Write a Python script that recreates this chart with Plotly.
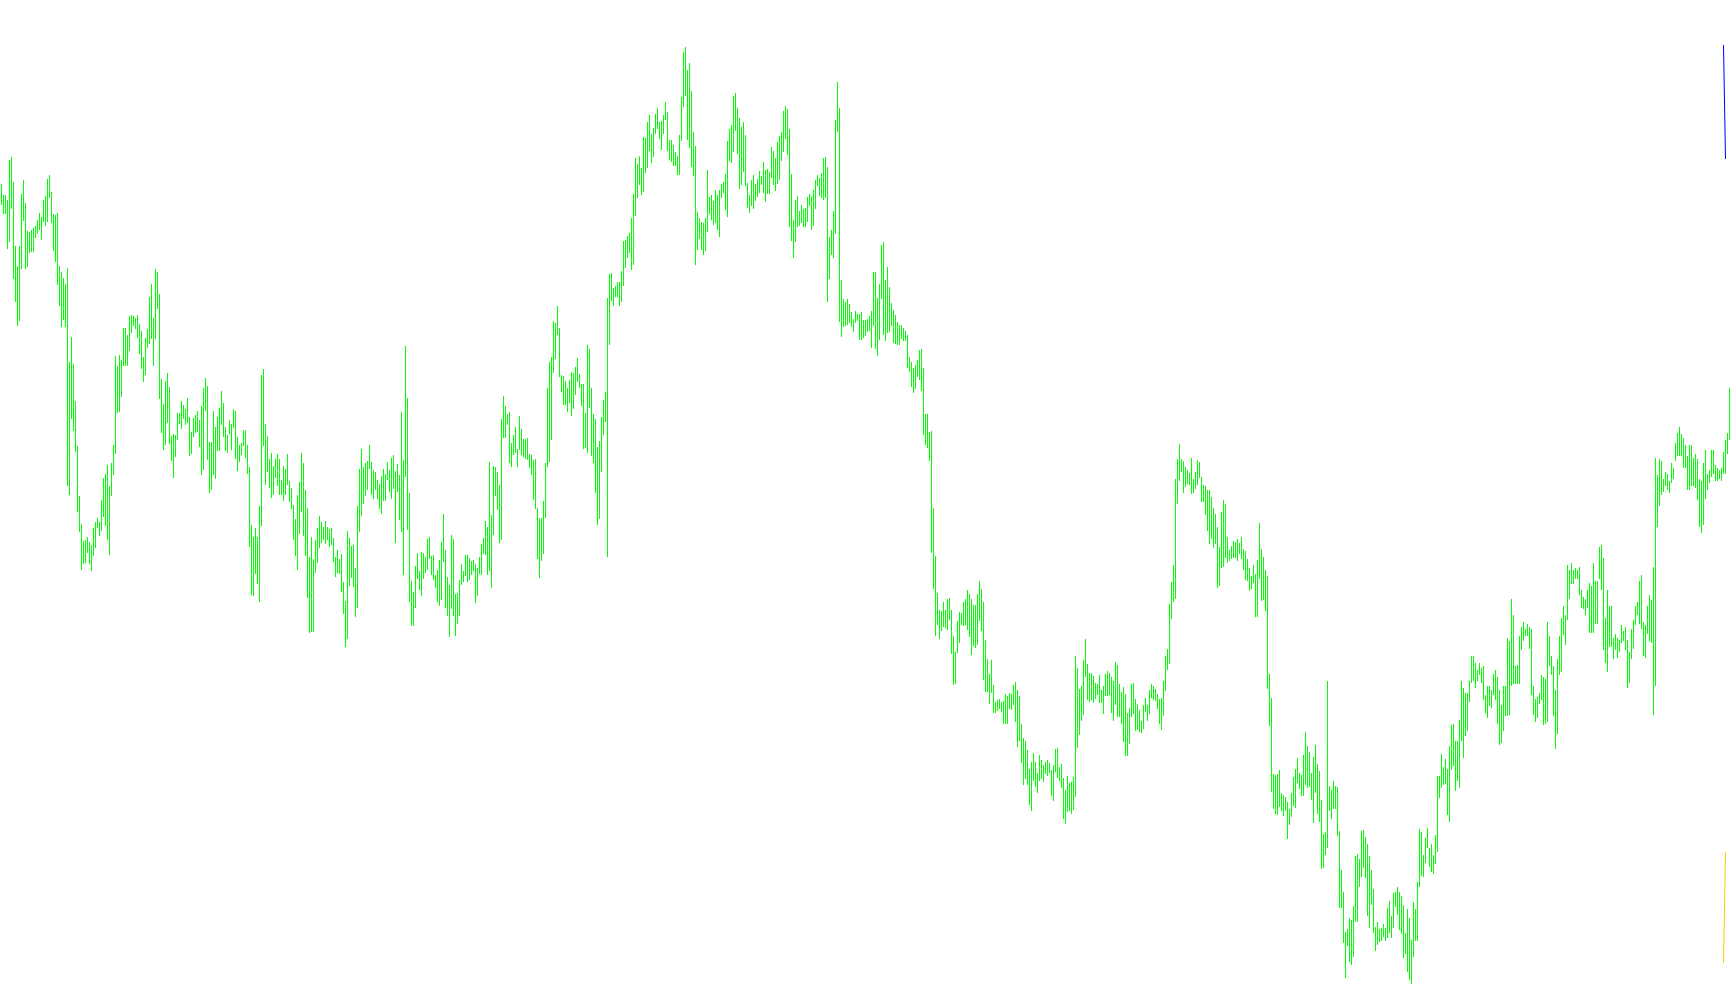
import plotly.graph_objects as go

# ---- price bars (high / low), left to right ----
high_1 = [816,805,805,800,840,843,818,754,734,754,
          806,820,797,769,768,770,772,774,780,787,
          783,800,804,821,825,808,786,785,787,734,
          728,722,716,732,638,663,636,599,554,504,
          476,459,460,463,458,455,472,478,482,478,
          500,522,526,535,514,537,555,644,634,645,
          640,672,672,665,684,685,684,682,685,676,
          669,643,662,671,703,716,682,731,728,706,
          621,596,619,627,613,564,566,565,587,587,
          599,595,591,602,583,568,582,585,589,580,
          594,612,622,614,558,558,589,573,583,592,
          609,597,573,565,580,576,591,589,563,555,
          557,570,570,555,533,475,463,472,463,494,
          625,631,576,564,541,547,534,541,546,541,
          520,534,531,546,519]
low_1 = [795,786,786,751,758,791,721,698,674,679,
         731,779,731,733,747,748,748,762,766,770,
         760,778,774,778,802,777,749,738,715,694,
         673,680,673,514,505,581,569,548,488,468,
         430,436,437,447,436,429,444,452,472,464,
         469,483,474,460,445,504,525,546,587,588,
         603,634,634,634,649,667,674,671,662,646,
         631,618,625,652,656,661,634,661,691,601,
         567,550,555,577,556,539,522,543,560,576,
         571,581,575,577,544,546,563,567,568,553,
         525,530,589,540,507,510,525,521,549,549,
         575,563,549,547,566,550,572,541,529,538,
         545,554,542,526,453,405,404,426,416,398,
         474,554,515,528,512,502,505,522,514,505,
         505,499,505,515,498]

high_2 = [512,495,481,505,518,547,537,510,492,443,
          463,441,460,472,484,478,473,479,473,471,
          472,462,443,450,441,446,418,399,469,462,
          454,455,432,494,531,551,533,537,539,555,
          538,530,528,520,516,524,531,526,538,530,
          542,545,529,536,525,588,540,654,602,507,
          419,408,434,447,429,448,447,443,461,463,
          444,445,425,430,440,458,486,450,423,415,
          465,461,406,407,420,436,429,445,445,442,
          439,440,436,432,443,456,462,479,473,538,
          485,534,533,528,515,581,604,594,586,588,
          557,565,573,551,584,571,561,561,562,546,
          545,540,541,492,482,482,499,537,612,638,
          643,679,677,694,672,625,624,619,612,620,
          628,627,633,642,626]
low_2 = [491,460,444,430,466,488,464,444,402,367,
         368,368,427,437,452,457,460,456,460,453,
         455,438,423,427,426,408,386,353,361,414,
         422,413,383,392,468,484,496,504,510,531,
         505,501,510,501,491,486,499,499,520,508,
         501,511,457,508,480,468,425,523,470,398,
         374,374,392,421,410,404,421,427,430,441,
         425,420,412,398,394,400,438,392,384,363,
         391,384,364,376,384,415,418,424,418,420,
         425,429,397,404,426,425,446,445,425,429,
         412,465,504,490,457,460,562,562,575,537,
         533,545,547,533,550,545,543,541,540,532,
         525,500,491,441,422,439,446,482,533,538,
         560,627,641,665,623,608,595,595,588,597,
         584,591,605,618,612]

high_3 = [616,616,587,655,651,612,586,581,553,559,
          583,600,608,702,726,727,712,714,718,718,
          729,759,760,764,767,782,806,842,836,844,
          832,863,862,878,885,866,872,886,892,878,
          879,885,898,888,860,860,855,848,844,865,
          903,948,953,930,937,909,868,854,788,782,
          778,777,782,830,803,805,799,810,805,810,
          816,818,826,859,871,875,904,907,892,882,
          873,878,865,817,805,820,825,816,821,829,
          824,838,830,831,828,853,849,842,858,864,
          868,889,894,891,871,826,780,800,804,789,
          795,791,792,803,806,804,810,820,825,822,
          827,842,843,833,763,770,789,880,918,892,
          720,701,698,701,696,688,681,689,686,686,
          688,680,680,681,684]
low_3 = [594,551,552,547,592,544,537,507,475,481,
         528,565,578,443,655,699,694,703,703,694,
         698,714,732,742,747,730,735,784,802,815,
         805,808,827,832,849,837,843,866,871,861,
         850,866,880,849,840,838,834,834,825,825,
         859,893,904,860,852,833,824,735,750,761,
         750,745,749,768,786,780,775,777,770,763,
         802,807,790,783,839,837,848,869,846,811,
         815,828,814,792,787,794,791,799,803,807,
         815,807,798,806,806,822,815,809,816,820,
         839,848,861,845,773,759,742,758,773,774,
         777,773,773,778,794,770,774,791,814,804,
         802,800,802,698,721,745,742,766,868,678,
         663,673,674,675,677,673,668,677,679,660,
         660,662,664,668,669]

high_4 = [689,728,728,702,716,755,758,720,733,713,
          697,690,685,678,675,675,672,669,665,643,
          638,632,635,640,650,651,632,586,586,568,
          569,492,444,407,390,389,398,390,401,402,
          390,364,348,379,388,387,398,401,410,406,
          401,395,395,406,419,411,398,360,341,326,
          340,315,298,300,301,298,299,306,304,307,
          306,315,318,310,304,276,262,259,250,231,
          238,247,238,227,245,240,235,238,240,237,
          230,235,251,252,233,236,222,210,224,217,
          218,223,344,332,311,314,340,361,336,327,
          327,324,317,316,325,310,314,326,329,327,
          323,319,338,335,316,308,313,306,287,292,
          316,317,301,296,290,279,295,302,295,310,
          316,314,311,306,301]
low_4 = [652,674,651,644,660,701,665,659,667,668,
         674,657,656,655,655,661,659,659,632,628,
         613,607,611,623,620,609,565,555,552,539,
         447,411,364,375,361,369,373,372,370,380,
         346,315,316,347,357,375,374,375,370,363,
         345,354,352,355,379,369,320,308,308,296,
         307,287,287,289,291,288,276,276,276,291,
         290,295,278,253,259,237,215,221,215,195,
         189,219,213,207,219,221,218,226,224,227,
         204,199,228,222,219,212,181,176,188,189,
         186,190,203,252,265,279,285,323,300,298,
         300,297,301,305,297,297,286,304,304,305,
         287,279,295,283,283,276,258,244,244,256,
         283,286,269,270,268,267,271,288,279,286,
         302,300,299,291,276]

high_5 = [302,319,344,351,396,418,435,521,541,556,
          541,539,533,530,527,542,521,528,540,538,
          523,515,514,510,510,503,492,486,473,453,
          488,500,496,463,450,454,459,458,461,457,
          463,451,449,441,432,424,435,426,440,477,
          451,443,430,424,326,302,226,225,226,230,
          207,205,203,198,191,207,223,231,242,227,
          225,245,268,254,248,227,243,255,236,229,
          200,166,168,319,214,210,219,214,213,169,
          130,108,68,71,82,80,94,144,146,141,
          169,170,163,156,144,130,111,73,78,71,
          72,76,72,92,99,84,107,108,113,108,
          104,95,67,91,82,60,98,91,118,171,
          168,145,162,172,152,156,145,165,224,224,
          246,233,241,231,254]
low_5 = [270,284,309,330,336,381,398,401,496,519,
         528,507,513,516,515,506,507,511,515,522,
         498,498,485,469,456,461,452,456,412,414,
         432,433,442,437,439,441,442,442,439,446,
         441,430,420,419,409,411,417,383,383,421,
         399,400,389,311,274,208,191,186,185,193,
         189,184,189,161,175,183,194,192,217,211,
         204,204,215,212,213,200,177,207,186,178,
         131,132,145,152,189,181,191,191,164,92,
         92,57,22,54,38,35,43,78,78,113,
         123,132,122,84,72,95,67,49,55,58,
         59,63,59,62,67,62,72,93,85,70,
         66,42,46,28,20,16,43,59,59,113,
         124,123,137,152,133,128,126,136,148,202,
         212,215,216,185,178]

high_6 = [275,276,259,259,280,319,312,307,307,319,
          344,344,337,330,337,332,334,305,314,314,
          310,326,330,323,310,295,314,314,362,359,
          401,385,334,335,364,373,378,371,376,373,
          371,314,301,303,307,325,323,321,378,364,
          344,334,310,341,364,382,394,385,435,430,
          437,430,432,430,433,410,403,401,410,417,
          414,437,419,419,453,455,442,382,410,394,
          394,362,366,362,360,375,369,373,360,348,
          371,380,394,398,419,425,378,375,394,405,
          400,433,542,525,541,539,521,528,526,519,
          537,532,557,567,573,566,562,555,544,555,
          555,542,546,541,521,519,537,550,526,530,
          550,550,535,532,530,532,548,560,567,612]
low_6 = [230,234,209,219,212,259,242,264,269,298,
         317,319,312,319,325,317,300,287,282,294,
         292,305,300,276,255,257,269,284,284,285,
         314,316,316,316,316,350,359,364,364,351,
         305,285,278,282,296,300,275,276,278,334,
         325,284,251,266,325,328,365,355,380,401,
         416,416,421,421,405,392,391,385,392,367,
         367,367,376,376,421,410,350,337,328,353,
         353,341,350,342,348,357,359,350,312,317,
         341,351,375,385,376,371,344,342,366,359,
         357,285,314,473,494,505,508,514,510,507,
         517,521,539,544,544,544,532,532,510,510,
         514,514,512,500,473,467,475,501,510,517,
         523,526,519,519,521,519,526,526,546,560]

# ---- two indicator lines at the right edge ----
upper_x = [861, 862]
upper_y = [955, 841]
lower_x = [861, 862]
lower_y = [37, 148]

highs = high_1 + high_2 + high_3 + high_4 + high_5 + high_6
lows = low_1 + low_2 + low_3 + low_4 + low_5 + low_6
n_bars = len(highs)

seg_x, seg_y = [], []
for i, (h, l) in enumerate(zip(highs, lows)):
    seg_x += [i, i, None]
    seg_y += [l, h, None]

fig = go.Figure()
fig.add_trace(go.Scatter(x=seg_x, y=seg_y, mode="lines",
                         line=dict(color="#00FF00", width=1),
                         hoverinfo="skip", showlegend=False))
fig.add_trace(go.Scatter(x=upper_x, y=upper_y, mode="lines",
                         line=dict(color="#0000FF", width=1),
                         hoverinfo="skip", showlegend=False))
fig.add_trace(go.Scatter(x=lower_x, y=lower_y, mode="lines",
                         line=dict(color="#FFCC00", width=1),
                         hoverinfo="skip", showlegend=False))

fig.update_layout(
    width=1730, height=1005,
    margin=dict(l=0, r=0, t=0, b=0, pad=0),
    paper_bgcolor="white", plot_bgcolor="white",
    showlegend=False,
    xaxis=dict(visible=False, range=[-0.75, n_bars - 0.75], fixedrange=True),
    yaxis=dict(visible=False, range=[-5, 1000], fixedrange=True),
)

fig.write_html("out.html", config={"displayModeBar": False},
               post_script="document.body.style.margin='0';document.body.style.overflow='hidden';")
